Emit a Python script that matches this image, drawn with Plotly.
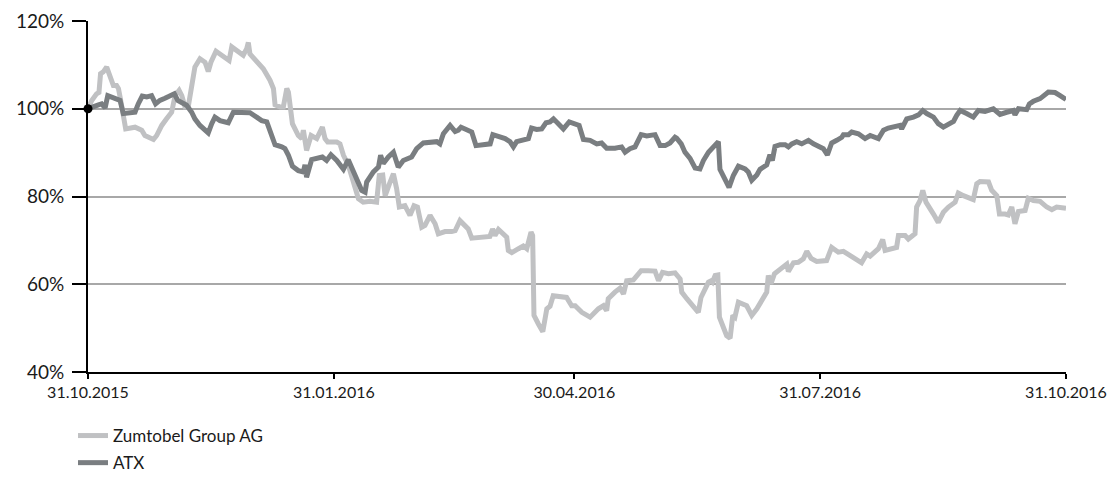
import pandas as pd
import plotly.graph_objects as go

start_date = "2015-10-31"
tick_dates = ["2015-10-31", "2016-01-31", "2016-04-30", "2016-07-31", "2016-10-31"]
y_ticks = [40, 60, 80, 100, 120]
y_tick_labels = ["40%", "60%", "80%", "100%", "120%"]

series_names = ["Zumtobel Group AG", "ATX"]

# days after 31.10.2015, value in % (start = 100%)
zt_days = [0.0, 1.4, 3.2, 4.1, 4.7, 5.7, 7.0, 8.2, 9.5, 10.7, 11.4, 12.0, 13.2, 14.1, 17.6, 20.1, 21.3, 24.5,
           25.7, 27.6, 29.4, 31.3, 32.6, 34.1, 35.1, 36.3, 37.5, 38.8, 40.0, 41.9, 43.8, 45.0, 46.0, 47.9,
           50.0, 52.8, 53.8, 56.3, 58.1, 59.4, 60.0, 60.6, 63.1, 65.6, 68.1, 69.4, 70.0, 71.9, 73.1, 74.4,
           75.0, 76.5, 78.7, 80.0, 80.6, 81.8, 83.5, 85.6, 87.7, 88.7, 89.7, 93.1, 94.3, 95.6, 97.4, 99.3,
           101.2, 103.0, 105.5, 108.0, 109.0, 110.3, 111.2, 112.8, 114.3, 115.5, 116.5, 118.6, 120.5, 122.0,
           123.3, 124.9, 126.1, 128.0, 129.9, 131.1, 133.6, 136.1, 137.4, 139.2, 141.1, 142.3, 143.6, 146.7,
           150.4, 151.4, 152.3, 153.6, 155.4, 156.7, 157.3, 158.6, 161.1, 162.9, 164.2, 165.8, 166.4, 166.9,
           168.5, 170.2, 171.7, 172.9, 174.1, 176.6, 179.1, 181.0, 182.3, 184.8, 187.9, 191.0, 192.9, 194.1,
           194.7, 197.2, 199.1, 200.4, 201.6, 204.1, 205.3, 207.0, 209.7, 212.2, 213.5, 215.0, 217.2, 219.7,
           221.6, 222.2, 224.1, 226.6, 228.4, 229.4, 230.9, 232.2, 233.2, 233.7, 234.7, 235.7, 236.3, 237.8,
           239.0, 240.3, 241.3, 242.1, 243.4, 246.5, 248.4, 250.3, 252.1, 254.0, 254.6, 255.6, 256.9, 259.6,
           261.5, 262.1, 264.0, 265.8, 267.7, 269.0, 270.6, 272.7, 274.0, 276.4, 278.3, 280.8, 282.7, 285.8,
           289.5, 291.4, 292.7, 295.8, 297.4, 298.3, 300.8, 302.6, 303.3, 305.8, 307.0, 309.5, 310.1, 311.4,
           312.4, 313.6, 316.4, 318.2, 320.1, 322.0, 324.5, 325.7, 327.6, 331.3, 332.6, 333.8, 337.0, 338.2,
           340.1, 341.1, 343.2, 344.4, 345.7, 346.9, 348.2, 350.7, 351.9, 353.8, 356.3, 358.8, 360.7, 362.5,
           366.0]
zt_values = [100.0, 101.9, 103.4, 103.7, 108.0, 108.4, 109.5, 107.2, 105.3, 105.3, 104.6, 102.7, 97.7, 95.4,
             95.8, 95.1, 93.9, 93.0, 93.9, 96.2, 97.7, 99.2, 103.0, 104.2, 103.0, 100.4, 100.4, 104.6, 109.5,
             111.4, 110.6, 108.5, 110.6, 113.1, 112.2, 111.0, 114.1, 112.9, 112.2, 113.7, 115.1, 112.5, 111.0,
             109.1, 106.5, 104.6, 100.9, 100.4, 100.4, 104.6, 103.8, 96.6, 93.9, 93.2, 95.1, 90.5, 93.9, 93.2,
             95.8, 93.2, 92.4, 92.4, 92.0, 89.4, 87.2, 83.3, 79.5, 78.7, 78.9, 78.7, 84.8, 84.9, 80.2, 82.9,
             85.2, 81.8, 77.6, 77.9, 75.7, 77.9, 77.6, 73.0, 73.4, 75.7, 73.8, 71.5, 72.0, 72.0, 72.2, 74.5,
             73.4, 72.6, 70.5, 70.7, 70.9, 72.6, 71.1, 72.5, 71.5, 70.7, 67.7, 67.2, 68.1, 68.7, 68.1, 71.9,
             71.1, 52.9, 51.0, 49.2, 54.4, 55.0, 57.4, 57.3, 57.0, 55.1, 55.1, 53.6, 52.5, 54.4, 55.1, 54.0,
             56.7, 58.2, 59.1, 57.8, 60.8, 61.0, 62.0, 63.1, 63.1, 63.0, 60.8, 62.7, 62.4, 62.6, 61.2, 58.2,
             56.7, 54.8, 53.6, 57.0, 58.9, 60.5, 60.8, 60.5, 62.0, 62.1, 52.5, 50.2, 48.3, 47.7, 52.9, 52.5,
             55.9, 55.1, 52.9, 54.4, 56.3, 58.2, 62.0, 60.1, 62.4, 63.5, 64.6, 62.9, 64.9, 65.0, 65.8, 67.5,
             65.9, 65.2, 65.2, 65.4, 68.4, 67.3, 67.5, 66.2, 64.9, 66.9, 66.4, 68.1, 70.2, 67.7, 68.2, 68.4,
             71.1, 71.1, 70.3, 71.5, 77.6, 79.1, 81.4, 78.7, 76.0, 74.1, 76.4, 77.6, 78.7, 80.8, 80.2, 79.3,
             82.9, 83.4, 83.3, 81.4, 80.2, 76.0, 76.0, 75.8, 77.6, 73.8, 76.6, 76.8, 79.6, 79.1, 78.9, 77.6,
             77.0, 77.6, 77.3]

atx_days = [0.0, 2.0, 3.9, 5.1, 6.4, 7.4, 8.9, 10.7, 12.0, 13.2, 15.1, 17.6, 18.8, 20.3, 22.0, 23.8, 25.3,
            26.9, 28.8, 30.7, 32.3, 33.6, 35.1, 36.9, 38.8, 40.0, 41.9, 45.0, 46.3, 47.5, 49.4, 52.5, 54.4,
            57.5, 60.6, 63.1, 65.0, 66.9, 68.5, 70.0, 72.5, 73.7, 75.0, 76.5, 78.7, 80.6, 81.2, 81.8, 83.7,
            86.2, 87.7, 89.3, 90.9, 93.1, 95.6, 97.4, 99.3, 101.2, 102.4, 103.7, 104.3, 106.8, 108.7, 109.5,
            110.5, 112.4, 114.3, 116.1, 118.0, 121.1, 123.0, 125.5, 128.6, 130.5, 131.7, 133.0, 135.5, 137.4,
            138.6, 139.6, 141.1, 143.6, 145.2, 148.0, 150.5, 151.5, 153.6, 156.1, 157.9, 159.2, 160.4, 162.3,
            164.8, 166.0, 167.9, 169.8, 171.4, 172.9, 174.2, 176.0, 177.9, 180.1, 182.3, 183.8, 185.4, 187.9,
            190.4, 192.2, 194.1, 197.2, 199.7, 201.0, 202.8, 204.7, 207.0, 209.1, 212.2, 214.1, 216.0, 217.8,
            219.7, 220.3, 222.0, 223.4, 225.3, 227.2, 229.0, 230.3, 232.2, 234.4, 235.9, 236.5, 238.4, 239.9,
            241.5, 243.4, 245.9, 247.1, 248.4, 250.3, 251.5, 254.0, 255.2, 256.1, 257.1, 259.0, 260.9, 262.1,
            263.4, 265.2, 267.1, 269.6, 271.5, 273.3, 275.2, 276.7, 278.3, 280.2, 282.1, 282.7, 284.6, 285.8,
            288.3, 290.8, 292.7, 295.8, 297.7, 299.5, 302.0, 303.9, 304.5, 306.4, 308.9, 310.8, 312.4, 313.9,
            316.4, 318.2, 320.1, 322.0, 323.9, 325.1, 326.4, 328.8, 331.3, 333.2, 335.7, 338.8, 341.3, 343.8,
            346.3, 346.9, 348.2, 351.3, 352.3, 353.8, 356.3, 359.4, 361.9, 363.8, 366.0]
atx_values = [100.0, 100.6, 100.9, 101.1, 100.2, 103.0, 102.7, 102.4, 101.9, 98.9, 99.0, 99.2, 101.1, 102.9,
              102.7, 103.0, 101.1, 101.9, 102.4, 102.8, 103.4, 101.9, 101.4, 100.8, 99.2, 97.7, 96.2, 94.5,
              96.6, 98.1, 97.3, 96.8, 99.2, 99.2, 99.1, 98.1, 97.3, 97.0, 94.3, 91.8, 91.3, 90.9, 89.4, 86.9,
              85.9, 85.6, 87.2, 84.4, 88.4, 88.6, 89.0, 88.2, 89.5, 88.2, 86.2, 88.4, 85.7, 82.9, 81.4, 81.0,
              83.3, 85.6, 86.7, 89.4, 87.5, 89.0, 90.1, 86.7, 88.2, 89.0, 90.9, 92.2, 92.4, 92.5, 92.0, 94.3,
              96.2, 94.8, 95.1, 95.8, 95.4, 94.7, 91.6, 91.8, 92.0, 94.1, 93.8, 93.2, 92.5, 91.3, 92.5, 92.8,
              93.2, 95.6, 95.3, 95.4, 96.8, 97.0, 97.7, 96.6, 95.4, 97.0, 96.4, 96.2, 93.0, 92.8, 92.0, 92.2,
              91.0, 91.0, 91.3, 90.1, 90.9, 91.3, 94.1, 93.8, 94.1, 91.6, 91.6, 92.2, 93.5, 93.3, 92.0, 90.1,
              88.7, 86.5, 86.3, 88.2, 90.1, 91.3, 92.5, 86.2, 84.0, 82.1, 84.8, 86.9, 86.3, 85.6, 83.7, 84.9,
              86.2, 87.2, 89.5, 88.2, 91.4, 91.8, 91.8, 91.3, 92.0, 92.5, 92.0, 92.8, 92.0, 91.6, 90.9, 89.5,
              92.2, 92.8, 93.5, 94.1, 94.1, 94.7, 94.3, 93.2, 93.9, 93.2, 95.1, 95.6, 95.8, 96.2, 95.4, 97.7,
              98.1, 98.6, 99.6, 98.9, 98.1, 96.6, 95.8, 96.6, 97.1, 98.5, 99.6, 98.9, 98.1, 99.6, 99.4, 100.0,
              98.7, 99.2, 99.6, 98.6, 100.0, 99.8, 101.1, 101.7, 102.3, 103.8, 103.7, 103.0, 102.1]

colors = ["#c0c1c3", "#7a7e81"]

base = pd.Timestamp(start_date)
zt_x = base + pd.to_timedelta(zt_days, unit="D")
atx_x = base + pd.to_timedelta(atx_days, unit="D")

fig = go.Figure()
fig.add_trace(go.Scatter(x=zt_x, y=zt_values, mode="lines", name=series_names[0],
                         line=dict(color=colors[0], width=5), legendgroup="a"))
fig.add_trace(go.Scatter(x=atx_x, y=atx_values, mode="lines", name=series_names[1],
                         line=dict(color=colors[1], width=5), legendgroup="b"))
fig.add_trace(go.Scatter(x=[atx_x[0]], y=[atx_values[0]], mode="markers", showlegend=False,
                         marker=dict(color="black", size=9), cliponaxis=False))

fig.update_layout(
    width=1115, height=478,
    margin=dict(l=88, r=49, t=21, b=106, autoexpand=False),
    paper_bgcolor="white", plot_bgcolor="white",
    font=dict(family="Lato, sans-serif", color="#1a1a1a"),
    showlegend=True,
    legend=dict(xref="container", yref="container", x=73 / 1115, y=1 - 418 / 478,
                xanchor="left", yanchor="top", orientation="v",
                font=dict(size=17, color="#1a1a1a"), itemwidth=30, tracegroupgap=2,
                bgcolor="rgba(0,0,0,0)"),
)
fig.update_xaxes(
    type="date", range=[tick_dates[0], tick_dates[-1]],
    tickvals=tick_dates, tickformat="%d.%m.%Y",
    showline=True, linecolor="black", linewidth=2,
    ticks="outside", ticklen=5, tickwidth=2, tickcolor="black",
    showgrid=False, zeroline=False, tickfont=dict(size=16),
    automargin=False,
)
fig.update_yaxes(
    range=[40, 120], tickvals=y_ticks, ticktext=y_tick_labels,
    showline=True, linecolor="black", linewidth=2,
    ticks="outside", ticklen=14, tickwidth=2, tickcolor="black",
    ticklabelstandoff=4,
    showgrid=True, gridcolor="#a8a8a8", gridwidth=1.5, zeroline=False,
    tickfont=dict(size=19), automargin=False,
)

fig.write_html("out.html", config={"displayModeBar": False},
               post_script="document.body.style.margin='0';")
